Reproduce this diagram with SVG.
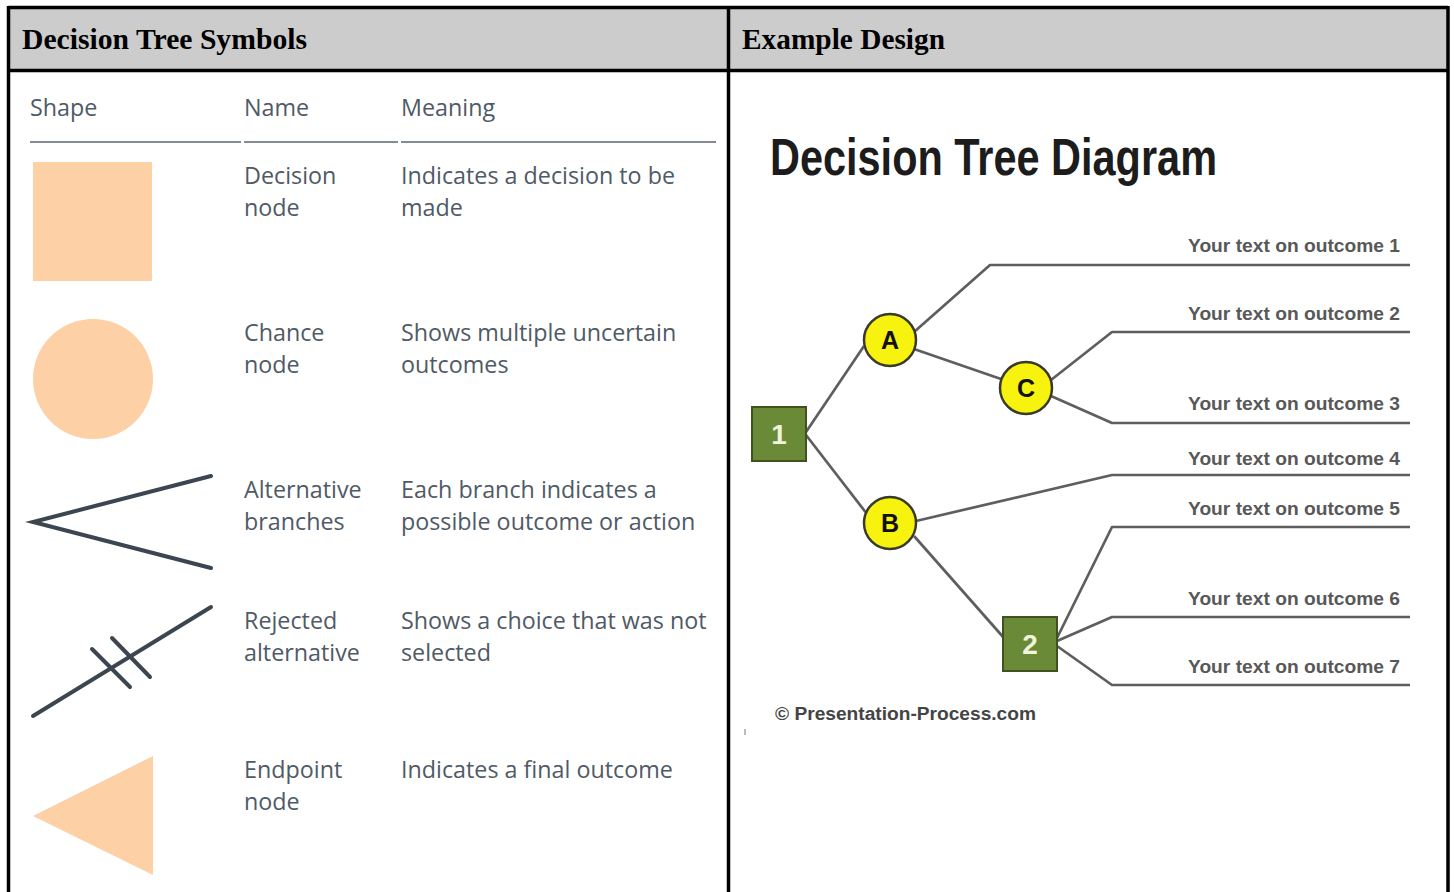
<svg xmlns="http://www.w3.org/2000/svg" width="1454" height="892" viewBox="0 0 1454 892">
<style>
.hdr{font-family:"Liberation Serif","Times New Roman",serif;font-weight:bold;font-size:28.5px;fill:#000}
.cell{font-family:"Open Sans","Noto Sans",sans-serif;font-size:23.3px;fill:#4f5a66}
.sym{fill:#fdd1a5}
.stk{stroke:#3c4650;stroke-width:4;fill:none;stroke-linecap:round}
.br{stroke:#5e5e5e;stroke-width:2.7;fill:none;stroke-linejoin:round}
.oc{font-family:"Liberation Sans Narrow","Liberation Sans",Arial,sans-serif;font-weight:bold;font-size:19px;fill:#585858}
.dec rect{fill:#6b8a38;stroke:#3f5220;stroke-width:2}
.dec text{font-family:"Liberation Sans",Arial,sans-serif;font-weight:bold;font-size:28px;fill:#eef5dc;text-anchor:middle}
.chn circle{fill:#f7f20e;stroke:#3a3a2a;stroke-width:2.5}
.chn text{font-family:"Liberation Sans",Arial,sans-serif;font-weight:bold;font-size:25px;fill:#111;text-anchor:middle}
</style>
<rect width="1454" height="892" fill="#fff"/>
<g id="table">
<rect x="8.5" y="7.5" width="1440" height="63" fill="#cccccc"/>
<g stroke="#000" stroke-width="3.5" fill="none">
<line x1="8.5" y1="7.5" x2="1448" y2="7.5"/>
<line x1="8.5" y1="70.5" x2="1448" y2="70.5"/>
<line x1="8.5" y1="6" x2="8.5" y2="892"/>
<line x1="728.5" y1="6" x2="728.5" y2="892"/>
<line x1="1448" y1="6" x2="1448" y2="892"/>
</g>
<text class="hdr" x="22" y="49" textLength="285" lengthAdjust="spacingAndGlyphs">Decision Tree Symbols</text>
<text class="hdr" x="742" y="49" textLength="203" lengthAdjust="spacingAndGlyphs">Example Design</text>
</g>
<g id="symbols-header">
<text class="cell" x="30" y="116">Shape</text>
<text class="cell" x="244" y="116">Name</text>
<text class="cell" x="401" y="116">Meaning</text>
<g stroke="#5d6570" stroke-width="1.5">
<line x1="30" y1="142" x2="241" y2="142"/>
<line x1="244" y1="142" x2="398" y2="142"/>
<line x1="401" y1="142" x2="716" y2="142"/>
</g>
</g>
<g id="row-decision">
<rect class="sym" x="33" y="162" width="119" height="119"/>
<text class="cell" x="244" y="184">Decision</text>
<text class="cell" x="244" y="216">node</text>
<text class="cell" x="401" y="184">Indicates a decision to be</text>
<text class="cell" x="401" y="216">made</text>
</g>
<g id="row-chance">
<circle class="sym" cx="93" cy="379" r="60"/>
<text class="cell" x="244" y="341">Chance</text>
<text class="cell" x="244" y="373">node</text>
<text class="cell" x="401" y="341">Shows multiple uncertain</text>
<text class="cell" x="401" y="373">outcomes</text>
</g>
<g id="row-alternative">
<polyline class="stk" points="211,476 33,522 211,568"/>
<text class="cell" x="244" y="498">Alternative</text>
<text class="cell" x="244" y="530">branches</text>
<text class="cell" x="401" y="498">Each branch indicates a</text>
<text class="cell" x="401" y="530">possible outcome or action</text>
</g>
<g id="row-rejected">
<line class="stk" x1="33" y1="716" x2="211" y2="607"/>
<line class="stk" x1="92" y1="649" x2="130" y2="687"/>
<line class="stk" x1="112" y1="638" x2="150" y2="677"/>
<text class="cell" x="244" y="629">Rejected</text>
<text class="cell" x="244" y="661">alternative</text>
<text class="cell" x="401" y="629">Shows a choice that was not</text>
<text class="cell" x="401" y="661">selected</text>
</g>
<g id="row-endpoint">
<polygon class="sym" points="33,816 153,756 153,875"/>
<text class="cell" x="244" y="778">Endpoint</text>
<text class="cell" x="244" y="810">node</text>
<text class="cell" x="401" y="778">Indicates a final outcome</text>
</g>
<g id="example-title">
<text x="770" y="175" font-family="'Liberation Sans Narrow','Liberation Sans',Arial,sans-serif" font-weight="bold" font-size="52" fill="#1c1c1c" textLength="447" lengthAdjust="spacingAndGlyphs">Decision Tree Diagram</text>
</g>
<g id="connectors">
<line class="br" x1="806" y1="432" x2="864" y2="346"/>
<line class="br" x1="806" y1="435" x2="867" y2="514"/>
<polyline class="br" points="914,332 990,265 1410,265"/>
<line class="br" x1="914" y1="349" x2="1001" y2="379"/>
<polyline class="br" points="1051,380 1112,332 1410,332"/>
<polyline class="br" points="1051,396 1112,423 1410,423"/>
<polyline class="br" points="916,521 1112,475 1410,475"/>
<line class="br" x1="914" y1="536" x2="1004" y2="638"/>
<polyline class="br" points="1057,638 1112,527 1410,527"/>
<polyline class="br" points="1057,641 1112,617 1410,617"/>
<polyline class="br" points="1057,646 1112,685 1410,685"/>
</g>
<g id="node-1" class="dec"><rect x="752" y="407" width="54" height="54"/><text x="779" y="444">1</text></g>
<g id="node-A" class="chn"><circle cx="890" cy="340" r="26"/><text x="890" y="349">A</text></g>
<g id="node-C" class="chn"><circle cx="1026" cy="388" r="26"/><text x="1026" y="397">C</text></g>
<g id="node-B" class="chn"><circle cx="890" cy="523" r="26"/><text x="890" y="532">B</text></g>
<g id="node-2" class="dec"><rect x="1003" y="617" width="54" height="54"/><text x="1030" y="654">2</text></g>
<g id="outcomes" text-anchor="end">
<text class="oc" x="1400" y="252" textLength="212" lengthAdjust="spacingAndGlyphs">Your text on outcome 1</text>
<text class="oc" x="1400" y="320" textLength="212" lengthAdjust="spacingAndGlyphs">Your text on outcome 2</text>
<text class="oc" x="1400" y="410" textLength="212" lengthAdjust="spacingAndGlyphs">Your text on outcome 3</text>
<text class="oc" x="1400" y="465" textLength="212" lengthAdjust="spacingAndGlyphs">Your text on outcome 4</text>
<text class="oc" x="1400" y="515" textLength="212" lengthAdjust="spacingAndGlyphs">Your text on outcome 5</text>
<text class="oc" x="1400" y="605" textLength="212" lengthAdjust="spacingAndGlyphs">Your text on outcome 6</text>
<text class="oc" x="1400" y="673" textLength="212" lengthAdjust="spacingAndGlyphs">Your text on outcome 7</text>
</g>
<g id="copyright">
<text x="775" y="720" font-family="'Liberation Sans',Arial,sans-serif" font-weight="bold" font-size="18" fill="#444" textLength="261" lengthAdjust="spacingAndGlyphs">© Presentation-Process.com</text>
<rect x="744" y="729" width="2" height="6" fill="#bbb"/>
</g>
</svg>
